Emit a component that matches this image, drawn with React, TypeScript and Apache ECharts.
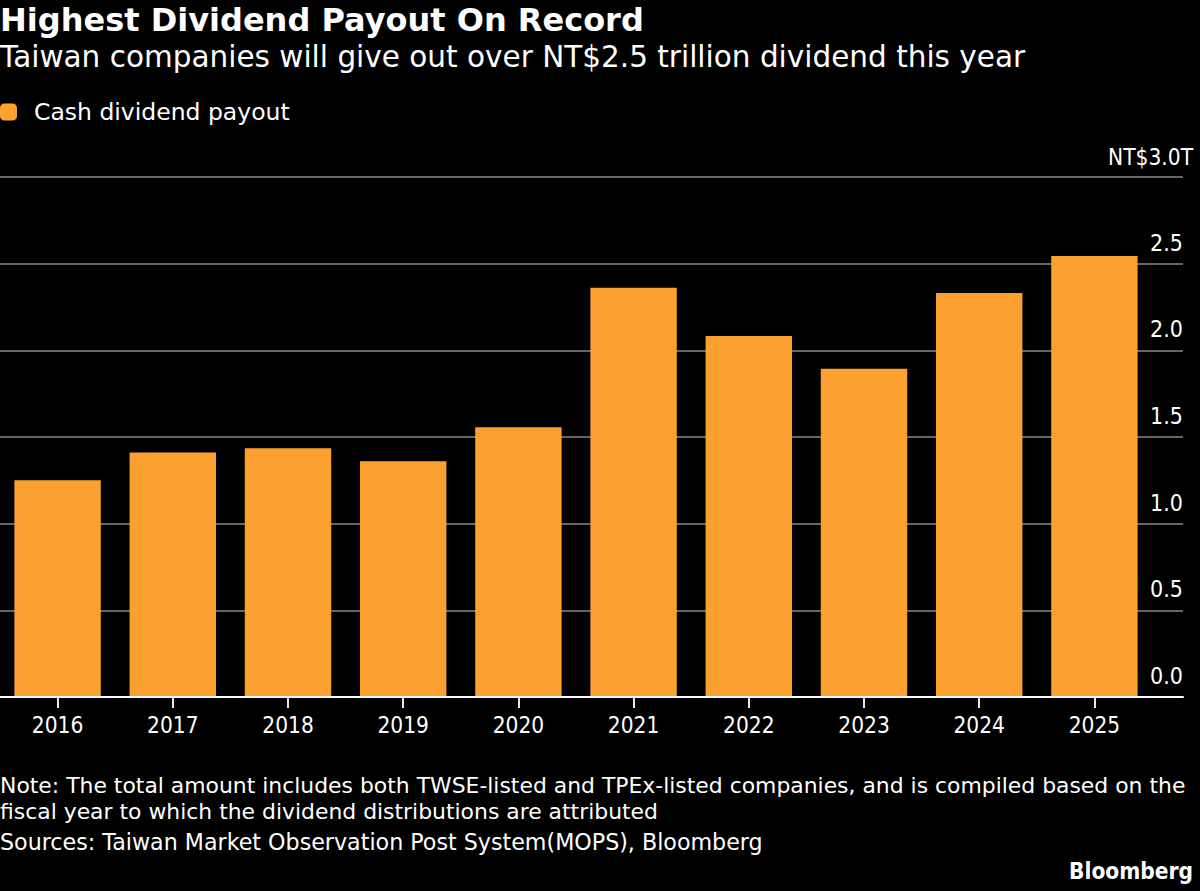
import React, { useEffect, useRef } from "react";
import * as echarts from "echarts";

const years = ["2016", "2017", "2018", "2019", "2020", "2021", "2022", "2023", "2024", "2025"];
const payout = [1.25, 1.41, 1.435, 1.36, 1.556, 2.361, 2.083, 1.894, 2.331, 2.544];
const yTicks = [0, 0.5, 1, 1.5, 2, 2.5, 3];

const titleText = "Highest Dividend Payout On Record";
const subtitleText = "Taiwan companies will give out over NT$2.5 trillion dividend this year";
const seriesName = "Cash dividend payout";
const noteLines = [
  "Note: The total amount includes both TWSE-listed and TPEx-listed companies, and is compiled based on the",
  "fiscal year to which the dividend distributions are attributed",
];
const sourceText = "Sources: Taiwan Market Observation Post System(MOPS), Bloomberg";
const unitLabel = "NT$3.0T";

const WIDE = "'DejaVu Sans', sans-serif";
const NARROW = "'DejaVu Sans Condensed', 'DejaVu Sans', sans-serif";
const ORANGE = "#FCA12F";

export default function App() {
  const ref = useRef<HTMLDivElement>(null);

  useEffect(() => {
    if (!ref.current) return;
    const chart = echarts.init(ref.current, null, { renderer: "svg" });
    const yMax = yTicks[yTicks.length - 1];

    chart.setOption({
      animation: false,
      backgroundColor: "#000000",
      textStyle: { fontFamily: NARROW },
      legend: {
        left: 0,
        top: 100,
        padding: 0,
        itemWidth: 17,
        itemHeight: 17,
        icon: "roundRect",
        data: [seriesName],
        textStyle: { color: "#ffffff", fontSize: 23.5, fontFamily: WIDE, padding: [0, 0, 0, 12] },
      },
      grid: [
        { left: 0, right: 17, top: 177, height: 520 },
        { left: -2, width: 1154, top: 177, height: 520 },
      ],
      xAxis: [
        {
          gridIndex: 0,
          type: "value",
          min: 0,
          max: 1,
          z: 5,
          axisLine: { show: true, lineStyle: { color: "#ffffff", width: 2 } },
          axisTick: { show: false },
          axisLabel: { show: false },
          splitLine: { show: false },
        },
        {
          gridIndex: 1,
          type: "category",
          data: years,
          axisLine: { show: false },
          axisTick: {
            show: true,
            alignWithLabel: true,
            length: 11,
            lineStyle: { color: "#e6e6e6", width: 2 },
          },
          axisLabel: { color: "#ffffff", fontSize: 22.5, fontFamily: NARROW, margin: 16 },
        },
      ],
      yAxis: [
        {
          gridIndex: 0,
          type: "value",
          position: "right",
          min: 0,
          max: yMax,
          interval: 0.5,
          axisLine: { show: false },
          axisTick: { show: false },
          splitLine: { show: true, lineStyle: { color: "#666666", width: 2 } },
          axisLabel: {
            inside: true,
            margin: 0,
            color: "#ffffff",
            fontSize: 23,
            fontFamily: NARROW,
            verticalAlign: "bottom",
            lineHeight: 24,
            padding: [0, 0, 9, 0],
            formatter: (v: number) => (v === yMax ? "" : v.toFixed(1)),
          },
        },
        { gridIndex: 1, type: "value", min: 0, max: yMax, show: false },
      ],
      series: [
        {
          name: seriesName,
          type: "bar",
          xAxisIndex: 1,
          yAxisIndex: 1,
          data: payout,
          barWidth: "75%",
          itemStyle: { color: ORANGE },
        },
      ],
      graphic: [
        {
          type: "text",
          left: 0,
          top: 4,
          style: { text: titleText, fill: "#ffffff", font: `bold 32px ${WIDE}` },
        },
        {
          type: "text",
          left: 0,
          top: 42,
          style: { text: subtitleText, fill: "#ffffff", font: `29.5px ${WIDE}` },
        },
        {
          type: "text",
          right: 7,
          top: 145,
          style: { text: unitLabel, fill: "#ffffff", font: `22.5px ${NARROW}` },
        },
        {
          type: "text",
          left: 0,
          top: 772,
          style: {
            text: noteLines.join("\n"),
            fill: "#ffffff",
            font: `21.9px ${WIDE}`,
            lineHeight: 26,
          },
        },
        {
          type: "text",
          left: 0,
          top: 831,
          style: { text: sourceText, fill: "#ffffff", font: `22.2px ${WIDE}` },
        },
        {
          type: "text",
          right: 7,
          top: 859,
          style: { text: "Bloomberg", fill: "#ffffff", font: `bold 22.5px ${NARROW}` },
        },
      ],
    });

    return () => chart.dispose();
  }, []);

  return (
    <div
      ref={ref}
      style={{ width: 1200, height: 891, position: "fixed", left: 0, top: 0, background: "#000" }}
    />
  );
}
